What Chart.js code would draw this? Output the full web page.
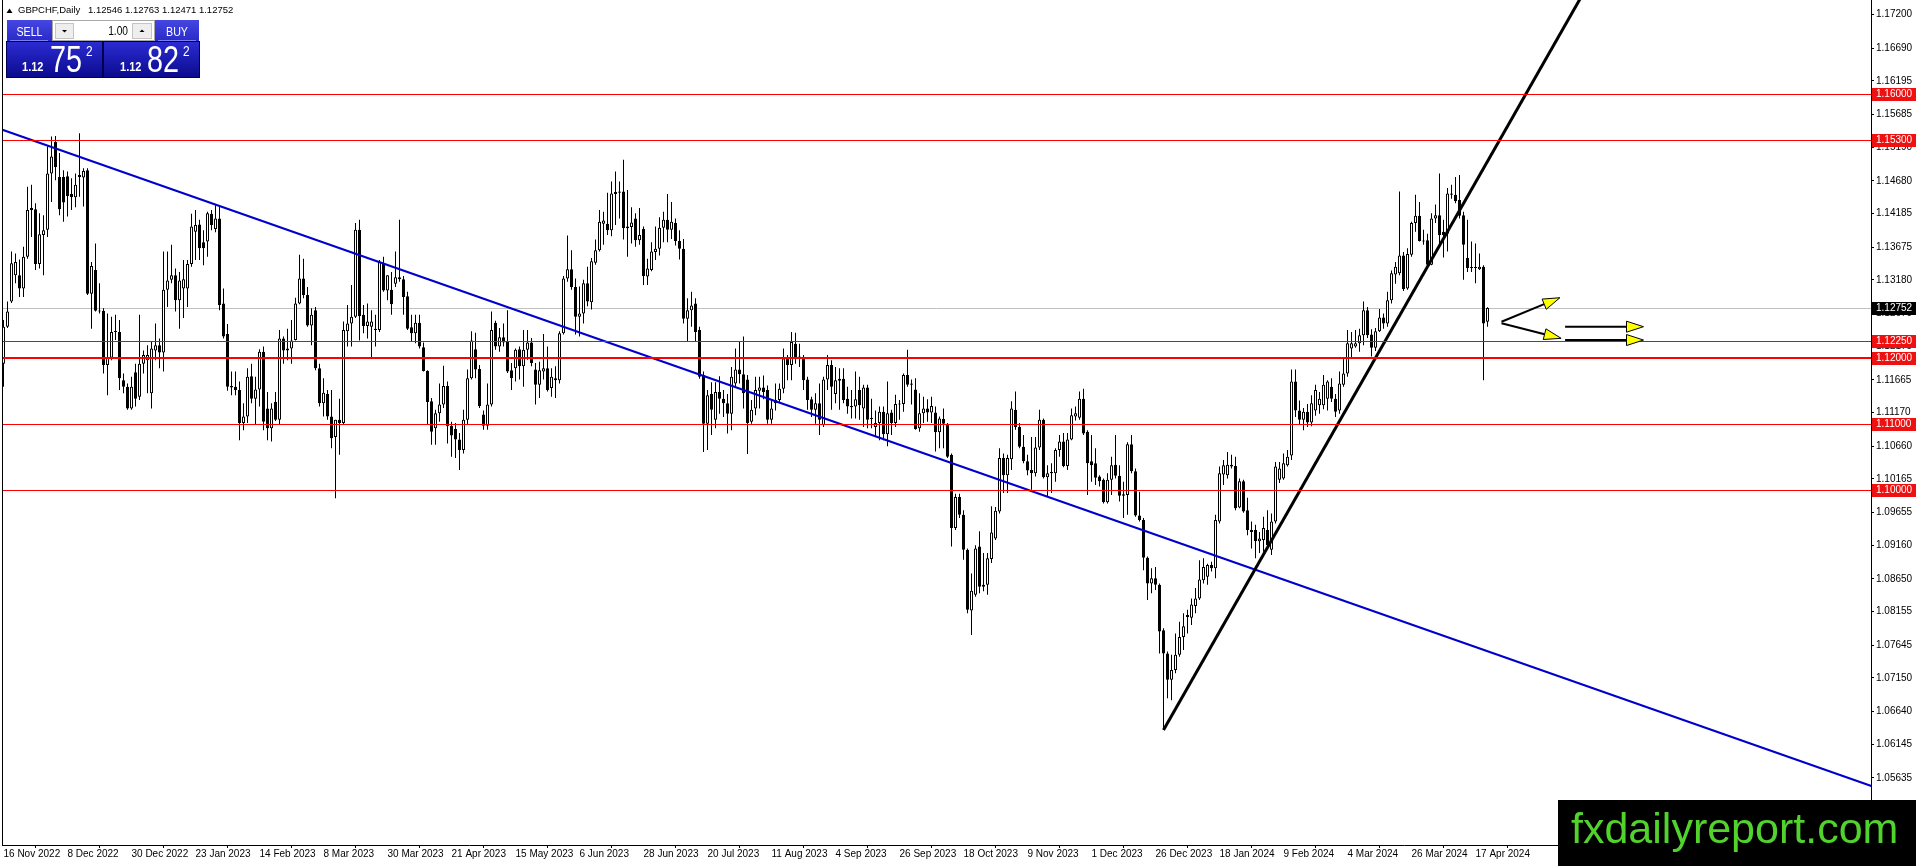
<!DOCTYPE html>
<html>
<head>
<meta charset="utf-8">
<title>GBPCHF, Daily</title>
<script src="https://cdn.jsdelivr.net/npm/chart.js@4.4.1/dist/chart.umd.min.js"></script>
<style>
    html, body { margin: 0; padding: 0; background: #ffffff; }
    canvas { display: block; }
</style>
</head>
<body>
<canvas id="chart" width="1916" height="866"></canvas>
<script>
// GBPCHF daily bars, 16 Nov 2022 .. 22 Apr 2024
var opens = [
    1.1191, 1.1247, 1.1285, 1.1325, 1.1325, 1.1305, 1.1353, 1.1424, 1.1425, 1.1342,
    1.1386, 1.1394, 1.1479, 1.1527, 1.1474, 1.1474, 1.1475, 1.1448, 1.1443, 1.1474,
    1.1473, 1.1484, 1.1297, 1.1333, 1.1271, 1.1271, 1.1189, 1.1200, 1.1239, 1.1239,
    1.1166, 1.1156, 1.1123, 1.1178, 1.1141, 1.1191, 1.1196, 1.1146, 1.1211, 1.1219,
    1.1208, 1.1303, 1.1318, 1.1325, 1.1287, 1.1305, 1.1305, 1.1342, 1.1391, 1.1402,
    1.1375, 1.1376, 1.1418, 1.1395, 1.1411, 1.1282, 1.1236, 1.1157, 1.1156, 1.1151,
    1.1101, 1.1111, 1.1172, 1.1138, 1.1152, 1.1209, 1.1123, 1.1093, 1.1133, 1.1106,
    1.1229, 1.1211, 1.1214, 1.1227, 1.1282, 1.1320, 1.1295, 1.1249, 1.1272, 1.1184,
    1.1131, 1.1145, 1.1111, 1.1080, 1.1106, 1.1101, 1.1240, 1.1252, 1.1262, 1.1394,
    1.1265, 1.1248, 1.1247, 1.1242, 1.1242, 1.1344, 1.1302, 1.1303, 1.1312, 1.1319,
    1.1319, 1.1293, 1.1246, 1.1237, 1.1253, 1.1216, 1.1180, 1.1134, 1.1093, 1.1116,
    1.1129, 1.1157, 1.1097, 1.1092, 1.1076, 1.1060, 1.1106, 1.1169, 1.1213, 1.1183,
    1.1114, 1.1097, 1.1129, 1.1253, 1.1217, 1.1231, 1.1225, 1.1181, 1.1184, 1.1213,
    1.1187, 1.1212, 1.1223, 1.1182, 1.1159, 1.1179, 1.1184, 1.1154, 1.1169, 1.1166,
    1.1237, 1.1320, 1.1334, 1.1307, 1.1262, 1.1267, 1.1313, 1.1284, 1.1344, 1.1363,
    1.1403, 1.1403, 1.1393, 1.1448, 1.1450, 1.1452, 1.1396, 1.1398, 1.1411, 1.1378,
    1.1395, 1.1323, 1.1333, 1.1360, 1.1365, 1.1397, 1.1409, 1.1394, 1.1404, 1.1377,
    1.1365, 1.1259, 1.1272, 1.1282, 1.1242, 1.1174, 1.1100, 1.1145, 1.1106, 1.1148,
    1.1138, 1.1131, 1.1115, 1.1161, 1.1182, 1.1175, 1.1167, 1.1103, 1.1123, 1.1150,
    1.1155, 1.1151, 1.1106, 1.1136, 1.1136, 1.1153, 1.1199, 1.1189, 1.1221, 1.1199,
    1.1201, 1.1167, 1.1137, 1.1121, 1.1131, 1.1098, 1.1167, 1.1189, 1.1145, 1.1165,
    1.1168, 1.1138, 1.1125, 1.1126, 1.1151, 1.1123, 1.1155, 1.1107, 1.1095, 1.1101,
    1.1118, 1.1084, 1.1117, 1.1101, 1.1129, 1.1130, 1.1174, 1.1159, 1.1152, 1.1093,
    1.1116, 1.1123, 1.1117, 1.1117, 1.1087, 1.1107, 1.1100, 1.1053, 1.0942, 1.0989,
    1.0962, 1.0909, 1.0817, 1.0841, 1.0914, 1.0853, 1.0856, 1.0895, 1.0926, 1.0967,
    1.1048, 1.1022, 1.1046, 1.1121, 1.1095, 1.1065, 1.1043, 1.1030, 1.1025, 1.1064,
    1.1106, 1.1019, 1.1025, 1.1025, 1.1060, 1.1073, 1.1036, 1.1076, 1.1111, 1.1109,
    1.1138, 1.1088, 1.1043, 1.1040, 1.1020, 1.1015, 1.0981, 1.1015, 1.1038, 1.1021,
    1.0991, 1.0992, 1.1069, 1.1028, 1.0961, 1.0954, 1.0897, 1.0858, 1.0866, 1.0856,
    1.0787, 1.0752, 1.0712, 1.0727, 1.0750, 1.0777, 1.0807, 1.0806, 1.0824, 1.0835,
    1.0863, 1.0868, 1.0886, 1.0881, 1.0952, 1.1023, 1.1022, 1.1035, 1.1036, 1.0973,
    1.1013, 1.0969, 1.0939, 1.0939, 1.0922, 1.0924, 1.0939, 1.0909, 1.0952, 1.1015,
    1.1017, 1.1037, 1.1052, 1.1164, 1.1120, 1.1106, 1.1118, 1.1102, 1.1120, 1.1128,
    1.1128, 1.1138, 1.1156, 1.1138, 1.1120, 1.1159, 1.1176, 1.1214, 1.1217, 1.1222,
    1.1234, 1.1272, 1.1235, 1.1215, 1.1240, 1.1261, 1.1252, 1.1287, 1.1326, 1.1328,
    1.1355, 1.1305, 1.1356, 1.1404, 1.1415, 1.1377, 1.1378, 1.1341, 1.1411, 1.1416,
    1.1391, 1.1388, 1.1447, 1.1447, 1.1439, 1.1416, 1.1351, 1.1336, 1.1337, 1.1334,
    1.1338, 1.12546
];
var highs = [
    1.1257, 1.1285, 1.1361, 1.1358, 1.1349, 1.1368, 1.1459, 1.1462, 1.1434, 1.1419,
    1.1416, 1.1520, 1.1535, 1.1536, 1.1510, 1.1484, 1.1482, 1.1472, 1.1479, 1.1540,
    1.1487, 1.1487, 1.1345, 1.1373, 1.1313, 1.1275, 1.1267, 1.1262, 1.1265, 1.1257,
    1.1176, 1.1161, 1.1171, 1.1191, 1.1265, 1.1211, 1.1219, 1.1224, 1.1252, 1.1229,
    1.1361, 1.1361, 1.1371, 1.1335, 1.1330, 1.1348, 1.1348, 1.1418, 1.1424, 1.1409,
    1.1393, 1.1421, 1.1424, 1.1431, 1.1431, 1.1305, 1.1251, 1.1179, 1.1179, 1.1164,
    1.1131, 1.1184, 1.1191, 1.1171, 1.1213, 1.1217, 1.1148, 1.1131, 1.1148, 1.1242,
    1.1232, 1.1244, 1.1257, 1.1291, 1.1356, 1.1350, 1.1307, 1.1275, 1.1277, 1.1191,
    1.1169, 1.1151, 1.1151, 1.1106, 1.1138, 1.1255, 1.1280, 1.1310, 1.1404, 1.1409,
    1.1280, 1.1282, 1.1272, 1.1265, 1.1348, 1.1353, 1.1325, 1.1330, 1.1361, 1.1409,
    1.1324, 1.1300, 1.1265, 1.1265, 1.1265, 1.1223, 1.1181, 1.1139, 1.1121, 1.1161,
    1.1188, 1.1164, 1.1103, 1.1101, 1.1086, 1.1121, 1.1182, 1.1240, 1.1238, 1.1189,
    1.1120, 1.1161, 1.1270, 1.1256, 1.1245, 1.1252, 1.1272, 1.1192, 1.1214, 1.1217,
    1.1242, 1.1242, 1.1230, 1.1192, 1.1194, 1.1236, 1.1217, 1.1184, 1.1187, 1.1240,
    1.1324, 1.1385, 1.1363, 1.1320, 1.1308, 1.1318, 1.1338, 1.1351, 1.1379, 1.1424,
    1.1421, 1.1450, 1.1467, 1.1482, 1.1467, 1.1500, 1.1454, 1.1428, 1.1419, 1.1427,
    1.1399, 1.1350, 1.1375, 1.1399, 1.1413, 1.1421, 1.1448, 1.1436, 1.1411, 1.1393,
    1.1380, 1.1290, 1.1300, 1.1290, 1.1247, 1.1179, 1.1151, 1.1163, 1.1163, 1.1172,
    1.1151, 1.1145, 1.1186, 1.1214, 1.1224, 1.1232, 1.1174, 1.1136, 1.1171, 1.1171,
    1.1173, 1.1158, 1.1136, 1.1161, 1.1161, 1.1214, 1.1204, 1.1239, 1.1238, 1.1221,
    1.1204, 1.1171, 1.1141, 1.1146, 1.1161, 1.1171, 1.1204, 1.1196, 1.1186, 1.1184,
    1.1184, 1.1156, 1.1151, 1.1179, 1.1171, 1.1159, 1.1159, 1.1138, 1.1120, 1.1126,
    1.1126, 1.1164, 1.1121, 1.1144, 1.1136, 1.1176, 1.1212, 1.1167, 1.1169, 1.1146,
    1.1141, 1.1137, 1.1141, 1.1126, 1.1111, 1.1123, 1.1101, 1.1055, 1.0994, 1.0994,
    1.0969, 1.0911, 1.0873, 1.0916, 1.0937, 1.0904, 1.0904, 1.0975, 1.0974, 1.1063,
    1.1055, 1.1053, 1.1134, 1.1149, 1.1101, 1.1083, 1.1053, 1.1080, 1.1080, 1.1121,
    1.1108, 1.1037, 1.1040, 1.1063, 1.1083, 1.1086, 1.1086, 1.1123, 1.1126, 1.1149,
    1.1153, 1.1090, 1.1083, 1.1063, 1.1022, 1.1017, 1.1025, 1.1050, 1.1083, 1.1037,
    1.1012, 1.1072, 1.1083, 1.1032, 1.0997, 1.0957, 1.0899, 1.0881, 1.0883, 1.0858,
    1.0790, 1.0755, 1.0750, 1.0782, 1.0800, 1.0813, 1.0818, 1.0835, 1.0851, 1.0893,
    1.0896, 1.0888, 1.0891, 1.0962, 1.1035, 1.1045, 1.1057, 1.1053, 1.1050, 1.1017,
    1.1015, 1.0988, 1.0952, 1.0947, 1.0936, 1.0959, 1.0969, 1.0964, 1.1042, 1.1042,
    1.1055, 1.1060, 1.1182, 1.1182, 1.1135, 1.1124, 1.1130, 1.1143, 1.1159, 1.1148,
    1.1174, 1.1166, 1.1169, 1.1145, 1.1179, 1.1199, 1.1242, 1.1239, 1.1242, 1.1244,
    1.1285, 1.1277, 1.1243, 1.1245, 1.1274, 1.1267, 1.1300, 1.1332, 1.1345, 1.1452,
    1.1360, 1.1366, 1.1406, 1.1447, 1.1436, 1.1394, 1.1388, 1.1419, 1.1432, 1.1479,
    1.1409, 1.1457, 1.1462, 1.1474, 1.1477, 1.1421, 1.1409, 1.1376, 1.1373, 1.1358,
    1.1340, 1.12763
];
var lows = [
    1.1156, 1.1245, 1.1283, 1.1313, 1.1292, 1.1292, 1.1350, 1.1383, 1.1333, 1.1335,
    1.1325, 1.1383, 1.1436, 1.1469, 1.1416, 1.1406, 1.1414, 1.1424, 1.1428, 1.1444,
    1.1429, 1.1295, 1.1244, 1.1270, 1.1267, 1.1176, 1.1143, 1.1196, 1.1227, 1.1151,
    1.1146, 1.1121, 1.1121, 1.1126, 1.1136, 1.1176, 1.1146, 1.1123, 1.1196, 1.1184,
    1.1179, 1.1277, 1.1313, 1.1270, 1.1244, 1.1260, 1.1277, 1.1338, 1.1348, 1.1348,
    1.1340, 1.1353, 1.1393, 1.1390, 1.1272, 1.1229, 1.1150, 1.1143, 1.1143, 1.1075,
    1.1090, 1.1101, 1.1131, 1.1098, 1.1126, 1.1090, 1.1075, 1.1073, 1.1104, 1.1098,
    1.1191, 1.1196, 1.1191, 1.1226, 1.1281, 1.1290, 1.1247, 1.1219, 1.1181, 1.1126,
    1.1111, 1.1106, 1.1063, 1.0987, 1.1053, 1.1098, 1.1217, 1.1217, 1.1260, 1.1226,
    1.1237, 1.1229, 1.1201, 1.1217, 1.1239, 1.1300, 1.1287, 1.1265, 1.1307, 1.1315,
    1.1265, 1.1242, 1.1224, 1.1222, 1.1214, 1.1179, 1.1098, 1.1068, 1.1068, 1.1103,
    1.1124, 1.1070, 1.1050, 1.1048, 1.1030, 1.1055, 1.1098, 1.1167, 1.1169, 1.1124,
    1.1091, 1.1091, 1.1126, 1.1212, 1.1209, 1.1217, 1.1177, 1.1151, 1.1164, 1.1167,
    1.1156, 1.1197, 1.1187, 1.1129, 1.1139, 1.1167, 1.1149, 1.1141, 1.1139, 1.1161,
    1.1235, 1.1315, 1.1303, 1.1235, 1.1232, 1.1252, 1.1278, 1.1273, 1.1341, 1.1361,
    1.1371, 1.1386, 1.1384, 1.1401, 1.1411, 1.1379, 1.1353, 1.1373, 1.1368, 1.1371,
    1.1310, 1.1310, 1.1331, 1.1348, 1.1355, 1.1375, 1.1375, 1.1380, 1.1370, 1.1349,
    1.1252, 1.1224, 1.1247, 1.1224, 1.1168, 1.1057, 1.1060, 1.1083, 1.1093, 1.1115,
    1.1110, 1.1085, 1.1090, 1.1156, 1.1161, 1.1123, 1.1054, 1.1100, 1.1113, 1.1123,
    1.1137, 1.1100, 1.1100, 1.1120, 1.1131, 1.1146, 1.1166, 1.1166, 1.1191, 1.1186,
    1.1151, 1.1121, 1.1110, 1.1100, 1.1083, 1.1095, 1.1151, 1.1121, 1.1131, 1.1121,
    1.1131, 1.1115, 1.1108, 1.1108, 1.1106, 1.1095, 1.1093, 1.1093, 1.1080, 1.1075,
    1.1075, 1.1066, 1.1083, 1.1095, 1.1106, 1.1118, 1.1156, 1.1129, 1.1091, 1.1088,
    1.1101, 1.1103, 1.1101, 1.1058, 1.1063, 1.1063, 1.1048, 1.0914, 1.0939, 1.0957,
    1.0894, 1.0813, 1.0780, 1.0838, 1.0843, 1.0846, 1.0841, 1.0889, 1.0924, 1.0964,
    1.0995, 1.0995, 1.1030, 1.1091, 1.1063, 1.1040, 1.1022, 1.1000, 1.1020, 1.1060,
    1.1017, 1.0990, 1.0995, 1.1012, 1.1050, 1.1034, 1.1030, 1.1075, 1.1105, 1.1106,
    1.1083, 1.0992, 1.1012, 1.1007, 1.1005, 1.0979, 1.0979, 1.0992, 1.1017, 1.0982,
    1.0957, 1.0962, 1.1025, 1.0959, 1.0952, 1.0878, 1.0833, 1.0843, 1.0848, 1.0752,
    1.0636, 1.0684, 1.0681, 1.0722, 1.0747, 1.0757, 1.0782, 1.0795, 1.0813, 1.0833,
    1.0858, 1.0856, 1.0876, 1.0866, 1.0949, 1.1007, 1.1017, 1.1032, 1.0969, 1.0972,
    1.0965, 1.0931, 1.0911, 1.0896, 1.0904, 1.0906, 1.0911, 1.0901, 1.0949, 1.1010,
    1.1015, 1.1035, 1.1045, 1.1110, 1.1098, 1.1090, 1.1095, 1.1096, 1.1112, 1.1115,
    1.1122, 1.1120, 1.1133, 1.1110, 1.1115, 1.1156, 1.1171, 1.1199, 1.1215, 1.1209,
    1.1219, 1.1230, 1.1202, 1.1210, 1.1239, 1.1244, 1.1247, 1.1282, 1.1312, 1.1325,
    1.1301, 1.1303, 1.1353, 1.1391, 1.1376, 1.1371, 1.1338, 1.1340, 1.1404, 1.1371,
    1.1352, 1.1361, 1.1441, 1.1434, 1.1411, 1.1318, 1.1330, 1.1330, 1.1313, 1.1333,
    1.1166, 1.12471
];
var closes = [
    1.1247, 1.1270, 1.1343, 1.1345, 1.1305, 1.1353, 1.1424, 1.1427, 1.1342, 1.1387,
    1.1393, 1.1479, 1.1505, 1.1489, 1.1425, 1.1435, 1.1445, 1.1443, 1.1462, 1.1477,
    1.1483, 1.1297, 1.1339, 1.1271, 1.1270, 1.1189, 1.1200, 1.1239, 1.1240, 1.1169,
    1.1156, 1.1123, 1.1156, 1.1138, 1.1191, 1.1204, 1.1204, 1.1214, 1.1219, 1.1208,
    1.1303, 1.1317, 1.1325, 1.1287, 1.1317, 1.1319, 1.1342, 1.1399, 1.1401, 1.1366,
    1.1366, 1.1419, 1.1401, 1.1411, 1.1280, 1.1232, 1.1156, 1.1155, 1.1151, 1.1101,
    1.1111, 1.1171, 1.1138, 1.1152, 1.1209, 1.1103, 1.1093, 1.1123, 1.1106, 1.1229,
    1.1211, 1.1214, 1.1226, 1.1282, 1.1320, 1.1295, 1.1249, 1.1265, 1.1184, 1.1131,
    1.1147, 1.1111, 1.1078, 1.1106, 1.1101, 1.1242, 1.1252, 1.1262, 1.1394, 1.1263,
    1.1248, 1.1255, 1.1255, 1.1244, 1.1345, 1.1302, 1.1325, 1.1281, 1.1322, 1.1322,
    1.1292, 1.1244, 1.1237, 1.1253, 1.1217, 1.1180, 1.1133, 1.1088, 1.1116, 1.1129,
    1.1157, 1.1096, 1.1082, 1.1076, 1.1060, 1.1106, 1.1169, 1.1226, 1.1182, 1.1127,
    1.1097, 1.1129, 1.1242, 1.1217, 1.1231, 1.1223, 1.1179, 1.1169, 1.1212, 1.1187,
    1.1212, 1.1223, 1.1192, 1.1159, 1.1181, 1.1184, 1.1151, 1.1171, 1.1166, 1.1237,
    1.1320, 1.1334, 1.1307, 1.1262, 1.1267, 1.1313, 1.1285, 1.1346, 1.1363, 1.1406,
    1.1408, 1.1393, 1.1449, 1.1451, 1.1452, 1.1396, 1.1399, 1.1405, 1.1378, 1.1386,
    1.1324, 1.1335, 1.1361, 1.1365, 1.1397, 1.1409, 1.1394, 1.1406, 1.1377, 1.1365,
    1.1259, 1.1272, 1.1279, 1.1239, 1.1171, 1.1100, 1.1143, 1.1121, 1.1148, 1.1138,
    1.1131, 1.1115, 1.1171, 1.1182, 1.1175, 1.1146, 1.1101, 1.1121, 1.1151, 1.1155,
    1.1148, 1.1106, 1.1123, 1.1131, 1.1153, 1.1199, 1.1189, 1.1224, 1.1199, 1.1202,
    1.1166, 1.1136, 1.1121, 1.1131, 1.1106, 1.1167, 1.1189, 1.1156, 1.1166, 1.1168,
    1.1136, 1.1126, 1.1127, 1.1137, 1.1128, 1.1155, 1.1106, 1.1108, 1.1101, 1.1118,
    1.1084, 1.1116, 1.1101, 1.1130, 1.1130, 1.1174, 1.1159, 1.1161, 1.1092, 1.1116,
    1.1123, 1.1117, 1.1127, 1.1087, 1.1108, 1.1100, 1.1050, 1.0942, 1.0989, 1.0962,
    1.0909, 1.0818, 1.0847, 1.0911, 1.0853, 1.0856, 1.0896, 1.0935, 1.0968, 1.1048,
    1.1022, 1.1048, 1.1123, 1.1095, 1.1065, 1.1043, 1.1029, 1.1025, 1.1064, 1.1106,
    1.1019, 1.1025, 1.1027, 1.1060, 1.1073, 1.1036, 1.1076, 1.1113, 1.1116, 1.1138,
    1.1085, 1.1040, 1.1037, 1.1018, 1.1013, 1.0981, 1.1015, 1.1037, 1.1021, 1.0991,
    1.0993, 1.1069, 1.1028, 1.0961, 1.0954, 1.0897, 1.0858, 1.0866, 1.0856, 1.0785,
    1.0752, 1.0712, 1.0727, 1.0750, 1.0777, 1.0793, 1.0810, 1.0826, 1.0835, 1.0864,
    1.0883, 1.0886, 1.0881, 1.0954, 1.1025, 1.1037, 1.1038, 1.1038, 1.0972, 1.1013,
    1.0967, 1.0939, 1.0936, 1.0922, 1.0926, 1.0942, 1.0916, 1.0952, 1.1035, 1.1032,
    1.1040, 1.1050, 1.1164, 1.1120, 1.1106, 1.1118, 1.1102, 1.1131, 1.1151, 1.1138,
    1.1159, 1.1164, 1.1138, 1.1118, 1.1161, 1.1176, 1.1222, 1.1222, 1.1222, 1.1234,
    1.1272, 1.1234, 1.1215, 1.1240, 1.1261, 1.1252, 1.1287, 1.1328, 1.1338, 1.1355,
    1.1304, 1.1357, 1.1404, 1.1415, 1.1377, 1.1376, 1.1341, 1.1411, 1.1416, 1.1386,
    1.1386, 1.1449, 1.1449, 1.1437, 1.1415, 1.1371, 1.1336, 1.1337, 1.1336, 1.1338,
    1.1252, 1.12752
];

// time scale: one label every 16 bars
var dateTickBars = [0, 16, 32, 48, 64, 80, 96, 112, 128, 144, 160, 176,
    192, 208, 224, 240, 256, 272, 288, 304, 320, 336, 352, 368];
var dateLabels = ['16 Nov 2022', '8 Dec 2022', '30 Dec 2022', '23 Jan 2023', '14 Feb 2023',
    '8 Mar 2023', '30 Mar 2023', '21 Apr 2023', '15 May 2023', '6 Jun 2023', '28 Jun 2023',
    '20 Jul 2023', '11 Aug 2023', '4 Sep 2023', '26 Sep 2023', '18 Oct 2023', '9 Nov 2023',
    '1 Dec 2023', '26 Dec 2023', '18 Jan 2024', '9 Feb 2024', '4 Mar 2024', '26 Mar 2024',
    '17 Apr 2024'];

// price scale labels
var priceTicks = [1.17200, 1.16690, 1.16195, 1.15685, 1.15190, 1.14680, 1.14185, 1.13675,
    1.13180, 1.12670, 1.12175, 1.11665, 1.11170, 1.10660, 1.10165, 1.09655, 1.09160,
    1.08650, 1.08155, 1.07645, 1.07150, 1.06640, 1.06145, 1.05635];

// horizontal levels and bid
var levelLines = [1.16000, 1.15300, 1.12250, 1.12000, 1.11000, 1.10000];
var bidPrice = 1.12752;

// trend lines, [bar index, price]
var blueTrend = [[-1, 1.1547], [467, 1.0551]];
var blackTrend = [[290, 1.0636], [400, 1.1806]];

// arrows, [bar index, price]
var arrowFrom = [[374.5, 1.12545], [374.5, 1.12521], [390.4, 1.12470], [390.4, 1.12268]];
var arrowTo = [[389.1, 1.12909], [389.4, 1.12294], [410.0, 1.12470], [410.0, 1.12268]];

var symbolTitle = 'GBPCHF,Daily';
var sellQuote = ['1.12', '75', '2'];
var buyQuote = ['1.12', '82', '2'];
var lotSize = '1.00';
var watermark = 'fxdailyreport.com';

var FONT = '"Liberation Sans", Arial, sans-serif';
Chart.defaults.font.family = FONT;
Chart.defaults.font.size = 10;
Chart.defaults.color = '#000000';

var wickData = [];
var bodyData = [];
var bodyFill = [];
for (var i = 0; i < opens.length; i++) {
    wickData.push({ x: i, y: [lows[i], highs[i]] });
    bodyData.push({ x: i, y: [Math.min(opens[i], closes[i]), Math.max(opens[i], closes[i])] });
    bodyFill.push(closes[i] >= opens[i] ? '#ffffff' : '#000000');
}

function toPoints(list) {
    return list.map(function (p) { return { x: p[0], y: p[1] }; });
}

function gradBox(ctx, x, y, w, h, top, bottom) {
    var g = ctx.createLinearGradient(0, y, 0, y + h);
    g.addColorStop(0, top);
    g.addColorStop(1, bottom);
    ctx.fillStyle = g;
    ctx.fillRect(x, y, w, h);
}

// text squeezed sideways a little, MT4 fonts are narrower than Arial
function narrowText(ctx, text, x, y, font, sx, align) {
    ctx.save();
    ctx.font = font;
    ctx.textAlign = align || 'left';
    ctx.translate(x, y);
    ctx.scale(sx, 1);
    ctx.fillText(text, 0, 0);
    ctx.restore();
}

function drawPanel(ctx) {
    ctx.save();
    ctx.fillStyle = '#000000';
    ctx.beginPath();
    ctx.moveTo(6.5, 13); ctx.lineTo(12.5, 13); ctx.lineTo(9.5, 8.5);
    ctx.closePath();
    ctx.fill();
    ctx.font = '9.5px ' + FONT;
    ctx.textAlign = 'left';
    ctx.textBaseline = 'alphabetic';
    ctx.fillText(symbolTitle, 18, 13);
    var n = opens.length - 1;
    ctx.fillText([opens[n], highs[n], lows[n], closes[n]].map(function (v) { return v.toFixed(5); }).join(' '), 88, 13);

    // sell / buy buttons
    gradBox(ctx, 7, 20, 45, 21, '#4646e2', '#2a2ac8');
    gradBox(ctx, 155, 20, 44, 21, '#4646e2', '#2a2ac8');
    ctx.fillStyle = '#7d7df0';
    ctx.fillRect(10, 40, 38, 1);
    ctx.fillRect(158, 40, 38, 1);
    ctx.fillStyle = '#ffffff';
    narrowText(ctx, 'SELL', 29.5, 35.5, '13px ' + FONT, 0.82, 'center');
    narrowText(ctx, 'BUY', 177, 35.5, '13px ' + FONT, 0.82, 'center');

    // lot box
    ctx.fillStyle = '#ffffff';
    ctx.fillRect(52, 20, 103, 21);
    ctx.strokeStyle = '#a8a8a8';
    ctx.lineWidth = 1;
    ctx.strokeRect(52.5, 20.5, 102, 20);
    ctx.fillStyle = '#eeeeee';
    ctx.fillRect(55, 23, 19, 16);
    ctx.fillRect(132, 23, 20, 16);
    ctx.strokeStyle = '#c4c4c4';
    ctx.strokeRect(55.5, 23.5, 18, 15);
    ctx.strokeRect(132.5, 23.5, 19, 15);
    ctx.fillStyle = '#000000';
    ctx.beginPath();
    ctx.moveTo(62, 30); ctx.lineTo(67, 30); ctx.lineTo(64.5, 32.5); ctx.closePath(); ctx.fill();
    ctx.beginPath();
    ctx.moveTo(139.5, 32); ctx.lineTo(144.5, 32); ctx.lineTo(142, 29.5); ctx.closePath(); ctx.fill();
    narrowText(ctx, lotSize, 128, 35, '12px ' + FONT, 0.85, 'right');

    // price boxes
    gradBox(ctx, 7, 42, 95, 35, '#2b2bd2', '#0b0b8e');
    gradBox(ctx, 104, 42, 95, 35, '#2b2bd2', '#0b0b8e');
    ctx.strokeStyle = '#000050';
    ctx.strokeRect(6.5, 41.5, 96, 36);
    ctx.strokeRect(103.5, 41.5, 96, 36);
    ctx.fillStyle = '#ffffff';
    narrowText(ctx, sellQuote[0], 22, 71, 'bold 13px ' + FONT, 0.85);
    narrowText(ctx, sellQuote[1], 50, 72, '36px ' + FONT, 0.8);
    narrowText(ctx, sellQuote[2], 86, 56, '14px ' + FONT, 0.85);
    narrowText(ctx, buyQuote[0], 120, 71, 'bold 13px ' + FONT, 0.85);
    narrowText(ctx, buyQuote[1], 147, 72, '36px ' + FONT, 0.8);
    narrowText(ctx, buyQuote[2], 183, 56, '14px ' + FONT, 0.85);
    ctx.restore();
}

function axisBox(ctx, chart, value, fill) {
    var y = Math.round(chart.scales.y.getPixelForValue(value));
    var x = chart.chartArea.right + 1;
    ctx.fillStyle = fill;
    ctx.fillRect(x, y - 6, chart.width - x, 13);
    ctx.fillStyle = '#ffffff';
    ctx.font = '10px ' + FONT;
    ctx.textAlign = 'left';
    ctx.textBaseline = 'middle';
    ctx.fillText(value.toFixed(5), x + 4, y + 0.5);
}

var mt4Overlay = {
    id: 'mt4Overlay',
    beforeDatasetsDraw: function (chart) {
        var ctx = chart.ctx, area = chart.chartArea;
        var py = Math.round(chart.scales.y.getPixelForValue(bidPrice)) + 0.5;
        ctx.save();
        ctx.strokeStyle = '#c0c0c0';
        ctx.lineWidth = 1;
        ctx.beginPath();
        ctx.moveTo(area.left, py);
        ctx.lineTo(area.right, py);
        ctx.stroke();
        ctx.restore();
    },
    afterDatasetsDraw: function (chart) {
        var ctx = chart.ctx, area = chart.chartArea;
        var xs = chart.scales.x, ys = chart.scales.y;
        ctx.save();
        levelLines.forEach(function (v) {
            var thick = v === 1.12;
            var py = Math.round(ys.getPixelForValue(v));
            ctx.fillStyle = '#ff0000';
            ctx.fillRect(area.left, thick ? py - 1 : py, area.right - area.left, thick ? 2 : 1);
        });

        for (var k = 0; k < arrowFrom.length; k++) {
            var x0 = xs.getPixelForValue(arrowFrom[k][0]), y0 = ys.getPixelForValue(arrowFrom[k][1]);
            var x1 = xs.getPixelForValue(arrowTo[k][0]), y1 = ys.getPixelForValue(arrowTo[k][1]);
            var a = Math.atan2(y1 - y0, x1 - x0);
            var len = 17, half = 5.5;
            var bx = x1 - len * Math.cos(a), by = y1 - len * Math.sin(a);
            ctx.strokeStyle = '#000000';
            ctx.lineWidth = 2;
            ctx.beginPath();
            ctx.moveTo(x0, y0);
            ctx.lineTo(bx, by);
            ctx.stroke();
            ctx.beginPath();
            ctx.moveTo(x1, y1);
            ctx.lineTo(bx + half * Math.sin(a), by - half * Math.cos(a));
            ctx.lineTo(bx - half * Math.sin(a), by + half * Math.cos(a));
            ctx.closePath();
            ctx.fillStyle = '#ffff00';
            ctx.fill();
            ctx.lineWidth = 1;
            ctx.stroke();
        }
        ctx.restore();
    },
    afterDraw: function (chart) {
        var ctx = chart.ctx, area = chart.chartArea;
        ctx.save();
        // left frame
        ctx.fillStyle = '#000000';
        ctx.fillRect(area.left, 0, 1, area.bottom);

        levelLines.forEach(function (v) { axisBox(ctx, chart, v, '#ee1111'); });
        axisBox(ctx, chart, bidPrice, '#000000');

        drawPanel(ctx);

        // watermark
        ctx.fillStyle = '#000000';
        ctx.fillRect(1558, 800, chart.width - 1558, chart.height - 800);
        ctx.fillStyle = '#52d22c';
        ctx.font = '43px ' + FONT;
        ctx.textAlign = 'left';
        ctx.textBaseline = 'alphabetic';
        ctx.fillText(watermark, 1571, 843);
        ctx.restore();
    }
};

new Chart(document.getElementById('chart').getContext('2d'), {
    type: 'bar',
    data: {
        datasets: [{
            label: 'body',
            data: bodyData,
            backgroundColor: bodyFill,
            borderColor: '#000000',
            borderWidth: 1,
            borderSkipped: false,
            inflateAmount: 0,
            grouped: false,
            categoryPercentage: 1,
            barPercentage: 1,
            maxBarThickness: 3,
            minBarLength: 1,
            order: 2
        }, {
            label: 'wick',
            data: wickData,
            backgroundColor: '#000000',
            borderWidth: 0,
            inflateAmount: 0,
            grouped: false,
            categoryPercentage: 1,
            barPercentage: 1,
            maxBarThickness: 1,
            minBarLength: 1,
            order: 3
        }, {
            type: 'line',
            label: 'blue trend',
            data: toPoints(blueTrend),
            borderColor: '#0000cd',
            borderWidth: 2,
            pointRadius: 0,
            order: 1
        }, {
            type: 'line',
            label: 'black trend',
            data: toPoints(blackTrend),
            borderColor: '#000000',
            borderWidth: 3,
            pointRadius: 0,
            order: 0
        }]
    },
    options: {
        responsive: false,
        devicePixelRatio: 1,
        animation: false,
        events: [],
        layout: { padding: { left: 2, top: 0, right: 0, bottom: 0 } },
        plugins: {
            legend: { display: false },
            tooltip: { enabled: false }
        },
        scales: {
            x: {
                type: 'linear',
                min: -0.375,
                max: 466.875,
                offset: false,
                grid: { drawOnChartArea: false, drawTicks: true, tickLength: 3, color: '#000000' },
                border: { color: '#000000', width: 1 },
                ticks: {
                    autoSkip: false,
                    maxRotation: 0,
                    align: 'start',
                    padding: 0,
                    color: '#000000',
                    font: { size: 10 },
                    callback: function (value, index) { return dateLabels[index]; }
                },
                afterBuildTicks: function (scale) {
                    scale.ticks = dateTickBars.map(function (v) { return { value: v }; });
                },
                afterFit: function (scale) {
                    scale.height = 21;
                    scale.paddingLeft = 0;
                    scale.paddingRight = 0;
                }
            },
            y: {
                type: 'linear',
                position: 'right',
                min: 1.04617,
                max: 1.17420,
                grid: { drawOnChartArea: false, drawTicks: true, tickLength: 3, color: '#000000' },
                border: { color: '#000000', width: 1 },
                ticks: {
                    autoSkip: false,
                    padding: 2,
                    color: '#000000',
                    font: { size: 10 },
                    callback: function (value) { return value.toFixed(5); }
                },
                afterBuildTicks: function (scale) {
                    scale.ticks = priceTicks.map(function (v) { return { value: v }; });
                },
                afterFit: function (scale) {
                    scale.width = 45;
                    scale.paddingTop = 0;
                    scale.paddingBottom = 0;
                }
            }
        }
    },
    plugins: [mt4Overlay]
});
</script>
</body>
</html>
